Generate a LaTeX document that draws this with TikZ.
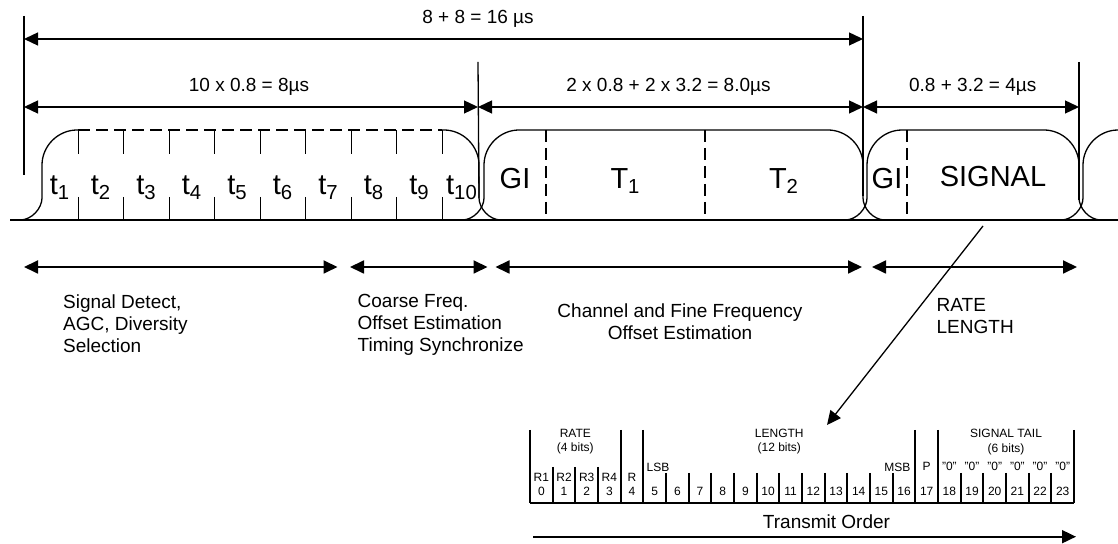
\documentclass[tikz,border=0pt]{standalone}
\usepackage{fontspec}
\setmainfont{Liberation Sans}
\usetikzlibrary{arrows.meta}

\begin{document}
\begin{tikzpicture}[x=0.5pt, y=-0.5pt, line width=0.65pt,
        >={Triangle[length=7pt,width=6.5pt]},
        dimtext/.style=
            {
                inner sep = 0pt,
                anchor = base,
                font = \fontsize{9.5}{11.1}\selectfont
            },
        slot/.style=
            {
                inner sep = 0pt,
                anchor = base,
                font = \fontsize{14.5}{17}\selectfont
            },
        phase/.style=
            {
                inner sep = 0pt,
                align = left,
                anchor = west,
                font = \fontsize{9.5}{11.1}\selectfont
            },
        bit/.style=
            {
                inner sep = 0pt,
                font = \fontsize{6}{7.2}\selectfont
            },
        gap/.style=
            {
                dash pattern = on 6pt off 3pt
            },
        field/.style=
            {
                line width = 0.9pt
            }
    ]

    \useasboundingbox (0,0) rectangle (1118,544);

    % guide lines
    \coordinate (g0) at (24,16);
    \coordinate (g1) at (478,62);
    \coordinate (g2) at (863,16);
    \coordinate (g3) at (1079,62);
    \draw (g0) -- (24,175);
    \draw (g1) -- (479,198);
    \draw (g2) -- (863,196);
    \draw (g3) -- (1079,200);

    % durations
    \draw[<->] (g0 |- 0,39) -- (g2 |- 0,39);
    \draw (478,23.3) node[dimtext] (d16) {8 + 8 = 16 µs};
    \draw[<->] (g0 |- 0,107) -- (g1 |- 0,107);
    \draw[<->] (g1 |- 0,107) -- (g2 |- 0,107);
    \draw[<->] (g2 |- 0,107) -- (g3 |- 0,107);
    \draw (249,91.7) node[dimtext] (d8a) {10 x 0.8 = 8µs};
    \draw (668.5,91.7) node[dimtext] (d8b) {2 x 0.8 + 2 x 3.2 = 8.0µs};
    \draw (972.7,91.7) node[dimtext] (d4) {0.8 + 3.2 = 4µs};

    % waveform
    \draw (10,220) -- (1118,220);
    \draw (20,220) .. controls (32,220) and (42,208) .. (42,198) -- (42,165)
        .. controls (42,146) and (58,130) .. (77,130) -- (78,130);
    \draw[gap] (78,130) -- (442,130);
    \draw (442,130) -- (444,130) .. controls (463,130) and (479,146) .. (479,165) -- (479,198)
        .. controls (479,208) and (489,220) .. (501,220);
    \draw (462,220) .. controls (474,220) and (484,208) .. (484,198) -- (484,165)
        .. controls (484,146) and (500,130) .. (519,130) -- (828,130)
        .. controls (847,130) and (863,146) .. (863,165) -- (863,198)
        .. controls (863,208) and (873,220) .. (885,220);
    \draw (845,220) .. controls (857,220) and (867,208) .. (867,198) -- (867,165)
        .. controls (867,146) and (883,130) .. (902,130) -- (1044,130)
        .. controls (1063,130) and (1079,146) .. (1079,165) -- (1079,198)
        .. controls (1079,208) and (1089,220) .. (1101,220);
    \draw (1061,220) .. controls (1073,220) and (1083,208) .. (1083,198) -- (1083,165)
        .. controls (1083,146) and (1099,130) .. (1118,130);

    \foreach \k in {0,...,8}
        \draw ({78.3+45.5*\k},130) -- +(0,24) ({78.3+45.5*\k},197) -- +(0,23);
    \draw[gap] (546,130) -- (546,220);
    \draw[gap] (705,130) -- (705,220);
    \draw[gap] (907,130) -- (907,220);

    \foreach \i/\x in {1/60,2/101,3/146.5,4/192,5/237.5,6/283,7/328.5,8/374,9/419.5,10/462}
        \draw (\x,195) node[slot] (t\i) {t\textsubscript{\i}};
    \draw (515,189) node[slot] (gi1) {GI};
    \draw (625.5,189) node[slot] (tt1) {T\textsubscript{1}};
    \draw (784,189) node[slot] (tt2) {T\textsubscript{2}};
    \draw (887,189) node[slot] (gi2) {GI};
    \draw (993,187) node[slot] (sig) {SIGNAL};

    % what each part is for
    \coordinate (p0) at (24,267);
    \coordinate (p1) at (337.5,267);
    \coordinate (p2) at (350,267);
    \coordinate (p3) at (487.5,267);
    \coordinate (p4) at (495.5,267);
    \coordinate (p5) at (862,267);
    \coordinate (p6) at (872,267);
    \coordinate (p7) at (1077,267);
    \draw[<->, line width=0.9pt] (p0) -- (p1);
    \draw[<->, line width=0.9pt] (p2) -- (p3);
    \draw[<->, line width=0.9pt] (p4) -- (p5);
    \draw[<->, line width=0.9pt] (p6) -- (p7);

    \draw (62.5,323.5) node[phase] (detect) {Signal Detect,\\AGC, Diversity\\Selection};
    \draw (357,325) node[phase] (coarse) {Coarse Freq.\\Offset Estimation\\Timing Synchronize};
    \draw (680,321.7) node[phase, align=center, anchor=center] (fine) {Channel and Fine Frequency\\Offset Estimation};
    \draw (936,316.2) node[phase] (ratelen) {RATE\\LENGTH};

    \coordinate (tap) at (983,226);
    \coordinate (aim) at (827,425);
    \draw[->] (tap) -- (aim);

    % SIGNAL field
    \draw[field] (530,503.3) -- (1074,503.3);
    \foreach \k in {0,4,5,17,18,24}
        \draw[field] ({530+22.667*\k},430) -- ({530+22.667*\k},503.3);
    \foreach \k in {1,2,3}
        \draw[field] ({530+22.667*\k},467) -- ({530+22.667*\k},503.3);
    \foreach \k in {6,7,8,9,10,11,12,13,14,15,16,19,20,21,22,23}
        \draw[field] ({530+22.667*\k},473) -- ({530+22.667*\k},503.3);

    \foreach \k in {0,...,23}
        \draw ({541.33+22.667*\k},491.7) node[bit] (b\k) {\k};
    \foreach \k/\r in {0/R1,1/R2,2/R3,3/R4,4/R}
        \draw ({541.33+22.667*\k},477.3) node[bit] (r\k) {\r};
    \draw ({541.33+22.667*17},466.7) node[bit] (par) {P};
    \foreach \k in {18,...,23}
        \draw ({541.33+22.667*\k},466.7) node[bit] (z\k) {"0"};
    \draw (646,467) node[bit, anchor=west] (lsb) {LSB};
    \draw (911,467) node[bit, anchor=east] (msb) {MSB};

    \draw (575.3,433.3) node[bit] (rate) {RATE};
    \draw (575.3,448.3) node[bit] (ratebits) {(4 bits)};
    \draw (779.3,433.3) node[bit] (len) {LENGTH};
    \draw (779.3,448.3) node[bit] (lenbits) {(12 bits)};
    \draw (1006,433) node[bit] (tail) {SIGNAL TAIL};
    \draw (1006,449) node[bit] (tailbits) {(6 bits)};

    \draw (826.5,521.7) node[dimtext, anchor=center] (order) {Transmit Order};
    \coordinate (o0) at (533,536.7);
    \coordinate (o1) at (1076,536.7);
    \draw[->, line width=0.9pt] (o0) -- (o1);

\end{tikzpicture}
\end{document}
